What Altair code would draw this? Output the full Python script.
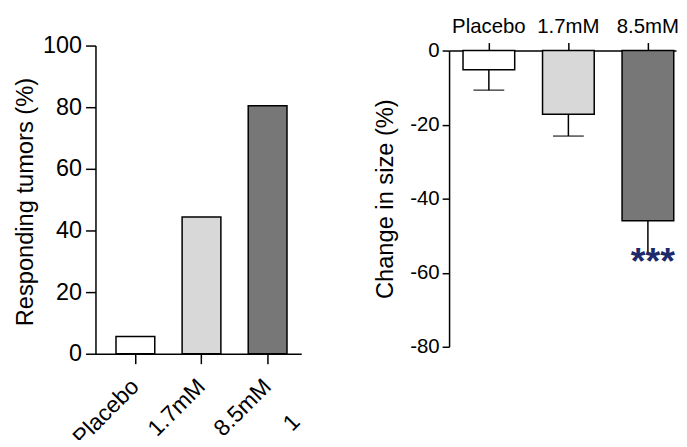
import altair as alt
import pandas as pd

FONT = "Liberation Sans"

groups = ["Placebo", "1.7mM", "8.5mM"]
responding = [5.6, 44.4, 80.5]
change = [-5.2, -17.2, -46.0]
change_err = [5.5, 5.9, 9.0]
fills = ["#ffffff", "#d8d8d8", "#777777"]
sig = ["", "", "***"]
left_ticks = [0, 20, 40, 60, 80, 100]
right_ticks = [0, -20, -40, -60, -80]

df_l = pd.DataFrame({"group": groups, "value": responding, "fill": fills})
df_r = pd.DataFrame({
    "group": groups,
    "value": change,
    "low": [c - e for c, e in zip(change, change_err)],
    "fill": fills,
    "sig": sig,
})

# ---------- left panel ----------
xl = alt.X("group:N", sort=groups,
           scale=alt.Scale(paddingInner=0.4135, paddingOuter=0.263, align=0.59),
           axis=alt.Axis(title=None, labelAngle=-45, labelAlign="right", labelBaseline="middle",
                         labelFontSize=23, labelFont=FONT,
                         labelColor="black", tickSize=10, labelPadding=19, labelOverlap=False,
                         domainColor="black", tickColor="black", domainWidth=1.5, tickWidth=1.5))
yl = alt.Y("value:Q", scale=alt.Scale(domain=[0, 100], nice=False),
           axis=alt.Axis(values=left_ticks, title="Responding tumors (%)", titleFont=FONT,
                         titleFontSize=23.8, titleFontWeight="normal", titleColor="black",
                         titleAngle=270, titleX=-58.5, titleY=157, titleAlign="center",
                         titleBaseline="bottom",
                         labelFontSize=23.5, labelFont=FONT, labelColor="black",
                         tickSize=10, labelPadding=4, domainColor="black", tickColor="black",
                         domainWidth=1.5, tickWidth=1.5, grid=False))

bars_l = alt.Chart(df_l).mark_bar(stroke="black", strokeWidth=1.5).encode(
    x=xl, y=yl, fill=alt.Fill("fill:N", scale=None))

# fragment of a fourth, cropped category label in the original figure
cut_label = alt.Chart(pd.DataFrame({"t": ["1"]})).mark_text(
    angle=315, align="left", baseline="middle", fontSize=23, font=FONT, color="black"
).encode(text="t:N", x=alt.value(193), y=alt.value(384))

left = alt.layer(bars_l, cut_label).properties(width=207, height=310)

# ---------- right panel ----------
xr = alt.X("group:N", sort=groups,
           scale=alt.Scale(paddingInner=0.35, paddingOuter=0.102, align=0.86),
           axis=alt.Axis(orient="top", title=None, labelAngle=0, labelFontSize=20.5, labelFont=FONT,
                         labelColor="black", tickSize=8, labelPadding=6, offset=-5,
                         labelOverlap=False,
                         domainColor="black", tickColor="black", domainWidth=1.5, tickWidth=1.5))
yscale_r = alt.Scale(domain=[-80, 0], range=[303, 5], nice=False)
yaxis_r = alt.Axis(values=right_ticks, title="Change in size (%)", titleFont=FONT,
                   titleFontSize=23.8, titleFontWeight="normal", titleColor="black",
                   titleAngle=270, titleX=-52, titleY=154, titleAlign="center",
                   titleBaseline="bottom",
                   labelExpr="toString(datum.value)",
                   labelFontSize=20.5, labelFont=FONT, labelColor="black",
                   tickSize=7, labelPadding=3, domainColor="black", tickColor="black",
                   domainWidth=1.5, tickWidth=1.5, grid=False)

bars_r = alt.Chart(df_r).mark_bar(stroke="black", strokeWidth=1.5).encode(
    x=xr, y=alt.Y("value:Q", scale=yscale_r, axis=yaxis_r),
    fill=alt.Fill("fill:N", scale=None))
err_rule = alt.Chart(df_r).mark_rule(color="black", strokeWidth=1.5).encode(
    x=xr, y=alt.Y("value:Q", scale=yscale_r, axis=yaxis_r), y2="low:Q")
err_cap = alt.Chart(df_r).transform_filter("datum.sig == ''").mark_tick(
    color="black", thickness=1.5, size=31).encode(
    x=xr, y=alt.Y("low:Q", scale=yscale_r, axis=yaxis_r))
stars = alt.Chart(df_r).mark_text(fontSize=38, fontWeight="bold", font=FONT, color="#1c2a6b",
                                  baseline="middle", dx=5, dy=9).encode(
    x=xr, y=alt.Y("low:Q", scale=yscale_r, axis=yaxis_r), text="sig:N")

right = alt.layer(err_rule, bars_r, err_cap, stars).properties(width=228.3, height=303)

chart = alt.hconcat(left, right, spacing=148.7, bounds="flush").properties(
    padding={"left": 5, "top": 7.5, "right": 0, "bottom": -12}
).configure_view(stroke=None)

chart.save("out.html", embed_options={"renderer": "svg", "actions": False})
